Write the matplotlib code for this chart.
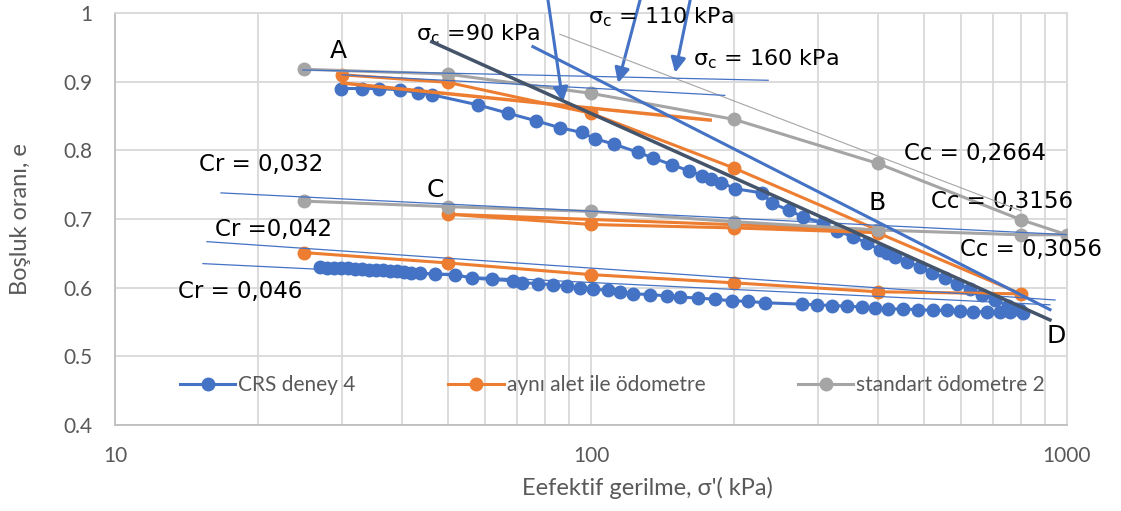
import numpy as np
import matplotlib.pyplot as plt
import matplotlib.ticker as mticker

plt.rcParams['font.family'] = ['Lato', 'DejaVu Sans']

# CRS deney 4: loading then unloading
crs_x = [29.9, 33.0, 35.9, 39.7, 43.4, 46.3, 58.0, 67.0, 76.6, 86.0, 95.6,
         101.9, 111.7, 125.7, 134.8, 147.8, 161, 171, 178.4, 188, 200.8,
         228.6, 240, 260, 279, 307.6, 328, 355.6, 379.6, 404.7, 418, 435,
         461, 491, 520, 554, 587, 625, 663, 706, 752, 797, 808,
         759, 723, 678, 635, 596, 559, 524, 487, 453, 421.6, 395, 370.6,
         344.6, 320.5, 298, 277, 232, 214, 197.6, 182, 168, 153.8, 144.2,
         133, 122.7, 115.1, 108.7, 101.2, 94.8, 88.9, 83.3, 77.5, 71.5, 68.7,
         61.8, 56.1, 51.8, 47.0, 43.7, 41.9, 40.5, 39.1, 37.8, 36.6, 35.3,
         34.2, 33.0, 31.9, 30.9, 29.8, 28.8, 27.9, 27.0]
crs_e = [0.890, 0.890, 0.890, 0.888, 0.884, 0.881, 0.866, 0.854, 0.843, 0.833,
         0.826, 0.817, 0.809, 0.797, 0.789, 0.779, 0.770, 0.763, 0.758, 0.753,
         0.744, 0.738, 0.723, 0.713, 0.703, 0.694, 0.683, 0.674, 0.665, 0.655,
         0.650, 0.645, 0.638, 0.630, 0.622, 0.614, 0.606, 0.598, 0.590, 0.582,
         0.574, 0.567, 0.563,
         0.564, 0.564, 0.565, 0.565, 0.566, 0.567, 0.567, 0.568, 0.569,
         0.569, 0.570, 0.572, 0.573, 0.574, 0.575, 0.576, 0.578, 0.580, 0.581,
         0.583, 0.585, 0.586, 0.588, 0.590, 0.591, 0.593, 0.596, 0.598, 0.599,
         0.602, 0.604, 0.606, 0.607, 0.610, 0.612, 0.614, 0.619, 0.620, 0.621,
         0.622, 0.623, 0.624, 0.624, 0.625, 0.625, 0.626, 0.627, 0.627, 0.628,
         0.628, 0.629, 0.629, 0.630]

# ayni alet ile odometre
odo_x = [30, 50, 100, 200, 400, 50, 100, 200, 400, 800, 400, 200, 100, 50, 25]
odo_e = [0.910, 0.899, 0.854, 0.774, 0.684, 0.707, 0.692, 0.687, 0.680,
         0.591, 0.594, 0.607, 0.619, 0.636, 0.651]

# standart odometre 2
std_x = [25, 50, 100, 200, 400, 800, 1000, 800, 400, 200, 100, 50, 25]
std_e = [0.918, 0.911, 0.883, 0.845, 0.781, 0.699, 0.677, 0.677, 0.684,
         0.696, 0.711, 0.718, 0.726]

# construction lines (start, end)
navy_x, navy_e = [46.3, 921], [0.958, 0.553]
ccb_x, ccb_e = [75.5, 921], [0.951, 0.568]
ccg_x, ccg_e = [86, 800], [0.969, 0.712]
otan_x, otan_e = [30, 178], [0.898, 0.844]
tan1_x, tan1_e = [24.8, 235.6], [0.917, 0.902]
tan2_x, tan2_e = [30, 191], [0.910, 0.880]
cr1_x, cr1_e = [16.7, 1014], [0.738, 0.677]
cr2_x, cr2_e = [15.6, 944], [0.667, 0.582]
cr3_x, cr3_e = [15.3, 921], [0.635, 0.575]

# arrows: (tail x, tail e, head x, head e)
arrows = [(81.2, 1.019, 87.3, 0.870),
          (126.8, 1.019, 114.0, 0.898),
          (161.6, 1.019, 150.2, 0.913)]

BLUE = '#4472C4'
ORANGE = '#ED7D31'
GRAY = '#A5A5A5'
NAVY = '#44546A'
TXT = '#595959'

fig = plt.figure(figsize=(11.21, 5.11), dpi=100)
ax = fig.add_axes([0.1026, 0.1683, 0.8492, 0.8063])
ax.set_xscale('log')
ax.set_xlim(10, 1000)
ax.set_ylim(0.4, 1.0)

ax.yaxis.set_major_locator(mticker.MultipleLocator(0.1))
ax.yaxis.set_major_formatter(mticker.FuncFormatter(lambda v, p: '%g' % round(v, 1)))
ax.xaxis.set_major_formatter(mticker.FuncFormatter(lambda v, p: '%d' % v))
ax.xaxis.set_minor_formatter(mticker.NullFormatter())
ax.grid(which='both', color='#D9D9D9', lw=1.3)
ax.set_axisbelow(True)
ax.tick_params(which='both', length=0, labelsize=15, labelcolor=TXT)
ax.tick_params(axis='x', pad=15)
ax.tick_params(axis='y', pad=16)
for s in ax.spines.values():
    s.set_color('#D9D9D9')
    s.set_linewidth(1.3)
ax.spines['left'].set_color('#BFBFBF')
ax.spines['bottom'].set_color('#BFBFBF')

l1, = ax.plot(crs_x, crs_e, color=BLUE, lw=2.2, marker='o', ms=9,
              label='CRS deney 4', zorder=3)
l2, = ax.plot(odo_x, odo_e, color=ORANGE, lw=2.2, marker='o', ms=9,
              label='aynı alet ile ödometre', zorder=3)
l3, = ax.plot(std_x, std_e, color=GRAY, lw=2.2, marker='o', ms=9,
              label='standart ödometre 2', zorder=3)

ax.plot(ccg_x, ccg_e, color=GRAY, lw=0.8, zorder=4)
ax.plot(otan_x, otan_e, color=ORANGE, lw=2.5, zorder=4)
for xs, es in [(tan1_x, tan1_e), (tan2_x, tan2_e), (cr1_x, cr1_e),
               (cr2_x, cr2_e), (cr3_x, cr3_e)]:
    ax.plot(xs, es, color=BLUE, lw=0.9, zorder=4)
ax.plot(navy_x, navy_e, color=NAVY, lw=2.5, zorder=5)
ax.plot(ccb_x, ccb_e, color=BLUE, lw=2.2, zorder=5)

for tx, te, hx, he in arrows:
    ax.annotate('', xy=(hx, he), xytext=(tx, te), annotation_clip=False,
                arrowprops=dict(arrowstyle='-|>', color=BLUE, lw=2.2,
                                mutation_scale=22, shrinkA=0, shrinkB=0))

fam = ['DejaVu Sans']
tf = dict(fontsize=16.5, color='black', family=fam, ha='center', va='center')
lf = dict(fontsize=18, color='black', family=fam, ha='center', va='center')
ax.text(29.4, 0.944, 'A', **lf)
ax.text(47.2, 0.742, 'C', **lf)
ax.text(400, 0.723, 'B', **lf)
ax.text(950, 0.530, 'D', **lf)
ax.text(20.3, 0.779, 'Cr = 0,032', **tf)
ax.text(21.5, 0.684, 'Cr =0,042', **tf)
ax.text(18.3, 0.594, 'Cr = 0,046', **tf)
ax.text(641, 0.795, 'Cc = 0,2664', **tf)
ax.text(730, 0.725, 'Cc = 0,3156', **tf)
ax.text(840, 0.655, 'Cc = 0,3056', **tf)
sf = dict(fontsize=16, color='black', family=fam, ha='left', va='center')
ax.text(42.9, 0.969, r'σ$_\mathregular{c}$ =90 kPa', **sf)
ax.text(98.7, 0.994, r'σ$_\mathregular{c}$ = 110 kPa', **sf)
ax.text(163.8, 0.932, r'σ$_\mathregular{c}$ = 160 kPa', **sf)

ax.set_xlabel("Eefektif gerilme, σ'( kPa)", fontsize=17, color=TXT, va='center')
ax.set_ylabel('Boşluk oranı, e', fontsize=17, color=TXT, va='center')
ax.xaxis.set_label_coords(0.559, -0.153)
ax.yaxis.set_label_coords(-0.0998, 0.5)

ax.legend(handles=[l1, l2, l3], loc='center', bbox_to_anchor=(0.5226, 0.097),
          ncol=3, frameon=False, fontsize=15, labelcolor=TXT,
          handlelength=2.65, handletextpad=0.15, columnspacing=4.45)

fig.savefig('out.png', dpi=100)
